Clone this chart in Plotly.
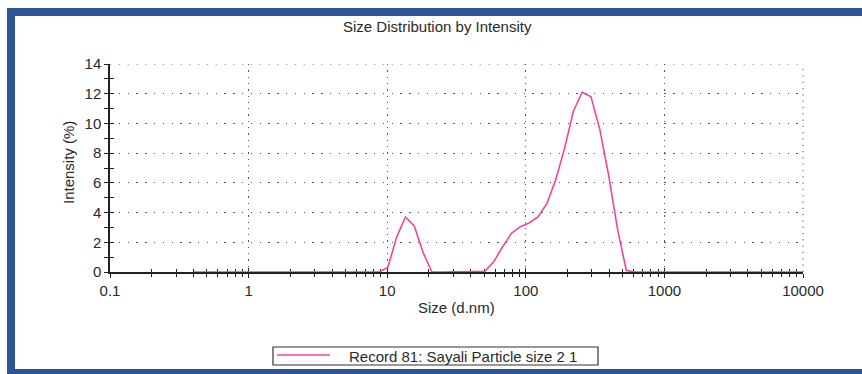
import plotly.graph_objects as go

# Size bins (d.nm) and intensity (%)
sizes = [0.4000, 0.4632, 0.5365, 0.6213, 0.7195, 0.8332, 0.9649, 1.117, 1.294, 1.499,
         1.736, 2.010, 2.328, 2.696, 3.122, 3.615, 4.187, 4.849, 5.615, 6.503,
         7.531, 8.721, 10.10, 11.70, 13.54, 15.69, 18.17, 21.04, 24.36, 28.21,
         32.67, 37.84, 43.82, 50.75, 58.77, 68.06, 78.82, 91.28, 105.7, 122.4,
         141.8, 164.2, 190.1, 220.2, 255.0, 295.3, 342.0, 396.1, 458.7, 531.2,
         615.1, 712.4, 825.0, 955.4, 1106, 1281, 1484, 1718, 1990, 2305,
         2669, 3091, 3580, 4145, 4801, 5560, 6439, 7456, 8635, 10000]
intensity = [0, 0, 0, 0, 0, 0, 0, 0, 0, 0,
             0, 0, 0, 0, 0, 0, 0, 0, 0, 0,
             0, 0, 0.3, 2.35, 3.7, 3.1, 1.3, 0, 0, 0,
             0, 0, 0, 0.05, 0.7, 1.7, 2.6, 3.05, 3.3, 3.7,
             4.6, 6.2, 8.3, 10.8, 12.1, 11.8, 9.6, 6.5, 2.9, 0.1,
             0, 0, 0, 0, 0, 0, 0, 0, 0, 0,
             0, 0, 0, 0, 0, 0, 0, 0, 0, 0]
series_name = "Record 81: Sayali Particle size 2 1"
title_text = "Size Distribution by Intensity"
x_title = "Size (d.nm)"
y_title = "Intensity (%)"
x_tickvals = [0.1, 1, 10, 100, 1000, 10000]
x_ticktext = ["0.1", "1", "10", "100", "1000", "10000"]
y_tickvals = [0, 2, 4, 6, 8, 10, 12, 14]
x_range_log = [-1, 4]
y_range = [0, 14]

W, H = 862, 374
L, R, T, B = 110, 59, 64, 102
pw, ph = W - L - R, H - T - B

def px(x):
    return (x - L) / pw

def py(y):
    return 1 - (y - T) / ph

FONT = "Liberation Sans, Arial, sans-serif"
TXT = "#2a2a2a"
PINK = "#f2449b"
BLUE = "#2e5596"
GRID = "#555"
XDASH = "1.3px,5px"
YDASH = "1.3px,7.5px"

fig = go.Figure()
fig.add_trace(go.Scatter(x=sizes, y=intensity, mode="lines",
                         line=dict(color=PINK, width=1.6),
                         name=series_name, showlegend=False, hoverinfo="skip"))
# invisible trace to activate overlay axes (inner tick halves)
fig.add_trace(go.Scatter(x=sizes, y=intensity, xaxis="x2", yaxis="y2", mode="lines",
                         line=dict(width=0), opacity=0, showlegend=False, hoverinfo="skip"))

common_x = dict(type="log", range=x_range_log)
common_y = dict(range=y_range)

fig.update_layout(
    width=W, height=H,
    margin=dict(l=L, r=R, t=T, b=B),
    paper_bgcolor="white", plot_bgcolor="white",
    font=dict(family=FONT, size=15, color=TXT),
    xaxis=dict(**common_x, tickvals=x_tickvals, ticktext=x_ticktext,
               ticks="outside", ticklen=4, tickwidth=1.3, tickcolor="#222",
               showline=True, linecolor="#222", linewidth=1.5, layer="below traces",
               showgrid=True, gridcolor=GRID, gridwidth=1, griddash=XDASH,
               minor=dict(ticks="outside", ticklen=3, tickwidth=1.2, tickcolor="#222",
                          dtick="D1", showgrid=False),
               tickfont=dict(size=15, color=TXT), zeroline=False),
    yaxis=dict(**common_y, tickvals=y_tickvals,
               ticks="outside", ticklen=4, tickwidth=1.3, tickcolor="#222",
               showline=True, linecolor="#222", linewidth=1.5, layer="below traces",
               showgrid=True, gridcolor=GRID, gridwidth=1, griddash=YDASH,
               minor=dict(ticks="outside", ticklen=4, tickwidth=1.2, tickcolor="#222",
                          dtick=1, showgrid=False),
               tickfont=dict(size=15, color=TXT), zeroline=False),
    xaxis2=dict(**common_x, overlaying="x", anchor="y2", side="bottom",
                tickvals=x_tickvals, showticklabels=False, layer="below traces",
                ticks="inside", ticklen=4, tickwidth=1.3, tickcolor="#222",
                minor=dict(ticks="inside", ticklen=3, tickwidth=1.2, tickcolor="#222", dtick="D1"),
                showgrid=False, showline=False, zeroline=False),
    yaxis2=dict(**common_y, overlaying="y", anchor="x2", side="left",
                tickvals=y_tickvals, showticklabels=False, layer="below traces",
                ticks="inside", ticklen=4, tickwidth=1.3, tickcolor="#222",
                minor=dict(ticks="inside", ticklen=4, tickwidth=1.2, tickcolor="#222", dtick=1),
                showgrid=False, showline=False, zeroline=False),
)

annotations = [
    dict(text=title_text, x=px(437), y=py(27), xref="paper", yref="paper",
         showarrow=False, font=dict(size=15, color=TXT), xanchor="center", yanchor="middle"),
    dict(text=x_title, x=px(457), y=py(307), xref="paper", yref="paper",
         showarrow=False, font=dict(size=15, color=TXT), xanchor="center", yanchor="middle"),
    dict(text=y_title, x=px(68), y=py(163), xref="paper", yref="paper", textangle=-90,
         showarrow=False, font=dict(size=15, color=TXT), xanchor="center", yanchor="middle"),
    dict(text=series_name, x=px(347), y=py(356), xref="paper", yref="paper",
         showarrow=False, font=dict(size=15, color=TXT), xanchor="left", yanchor="middle"),
]
fig.update_layout(annotations=annotations)

shapes = [
    # edge gridlines (top at y max, right at x max) that plotly omits at range edges
    dict(type="line", xref="paper", yref="y", x0=0, x1=1, y0=y_range[1], y1=y_range[1],
         line=dict(color=GRID, width=1, dash=YDASH), layer="below"),
    dict(type="line", xref="paper", yref="paper", x0=1, x1=1, y0=0, y1=1,
         line=dict(color=GRID, width=1, dash=XDASH), layer="below"),
    # blue frame
    dict(type="rect", xref="paper", yref="paper", x0=px(7), x1=px(15), y0=py(374), y1=py(8),
         fillcolor=BLUE, line=dict(width=0), layer="above"),
    dict(type="rect", xref="paper", yref="paper", x0=px(7), x1=px(862), y0=py(16), y1=py(8),
         fillcolor=BLUE, line=dict(width=0), layer="above"),
    dict(type="rect", xref="paper", yref="paper", x0=px(7), x1=px(862), y0=py(374), y1=py(369),
         fillcolor=BLUE, line=dict(width=0), layer="above"),
    # legend box
    dict(type="rect", xref="paper", yref="paper", x0=px(273), x1=px(598), y0=py(365), y1=py(347),
         fillcolor="white", line=dict(color="#333", width=1.2), layer="above"),
    dict(type="line", xref="paper", yref="paper", x0=px(277), x1=px(330), y0=py(355), y1=py(355),
         line=dict(color=PINK, width=1.6), layer="above"),
]
fig.update_layout(shapes=shapes)

fig.write_html("out.html")
